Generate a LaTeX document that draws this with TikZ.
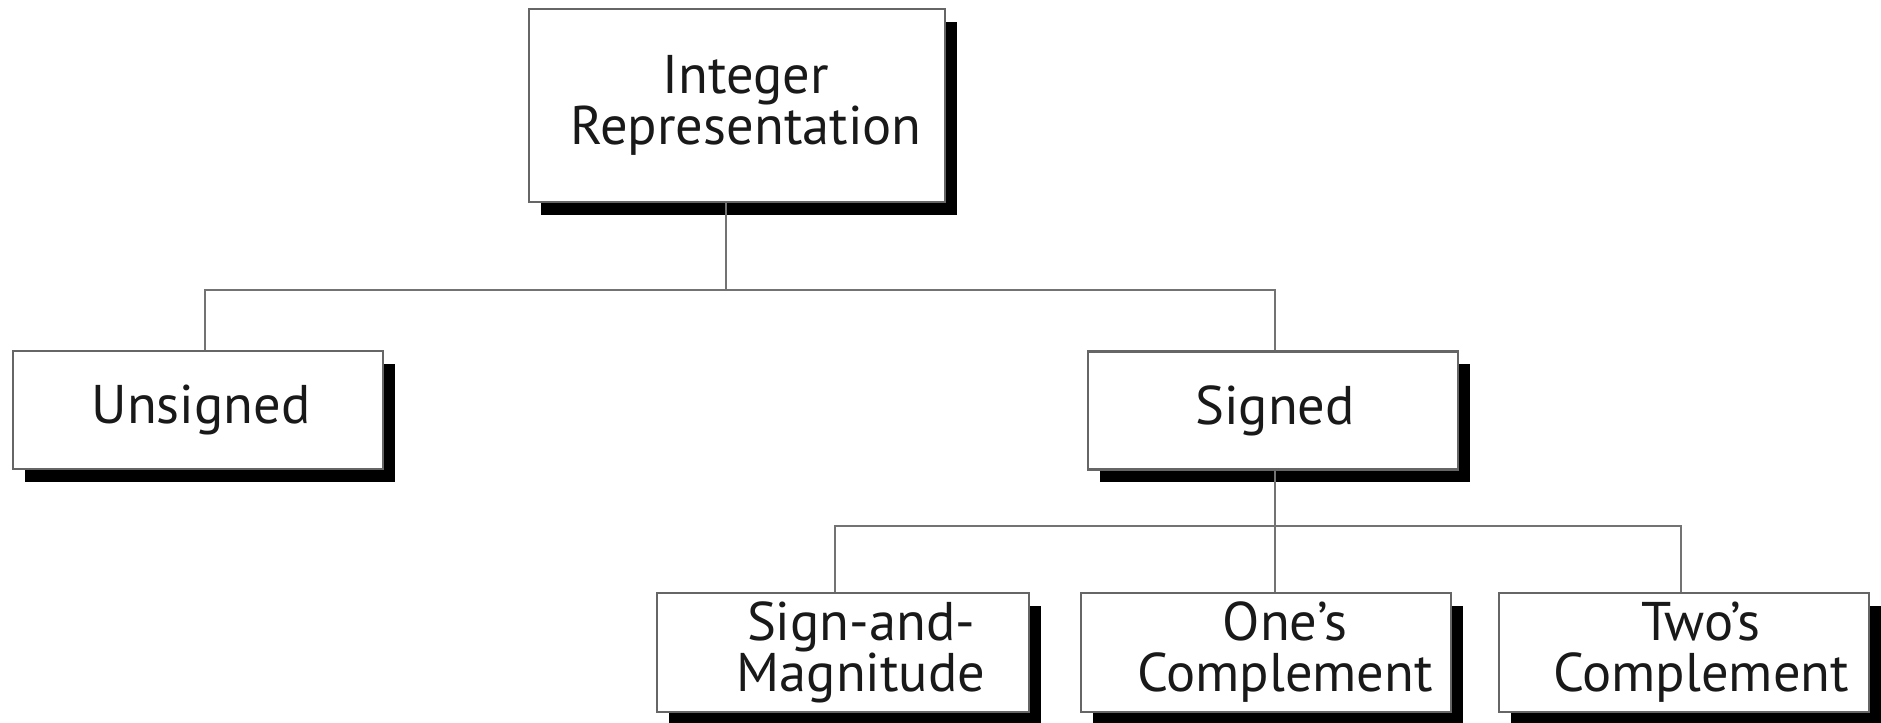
\documentclass[tikz,border=0pt]{standalone}
\usepackage{fontspec}
\setmainfont{PT Sans}
\usetikzlibrary{shadows}

\begin{document}
\begin{tikzpicture}[
   box/.style={draw=black!60, line width=0.6pt, fill=white,
      inner sep=0pt, minimum height=1.18cm,
      drop shadow={shadow xshift=0.12cm, shadow yshift=-0.13cm, fill=black, opacity=1}},
   lbl/.style={align=center, text=black!90, font=\fontsize{15.5}{14.5}\selectfont, inner sep=0pt},
   link/.style={draw=black!55, line width=0.7pt}]
   \useasboundingbox (0, 0) rectangle (18.81, -7.23);

   \node[box, minimum width=4.16cm, minimum height=1.93cm] (intrep) at (7.37, -1.055) {};
   \node[box, minimum width=3.70cm] (unsigned) at (1.98, -4.10) {};
   \node[box, minimum width=3.70cm] (signed) at (12.73, -4.105) {};
   \node[box, minimum width=3.72cm, minimum height=1.19cm] (sam) at (8.43, -6.525) {};
   \node[box, minimum width=3.70cm, minimum height=1.19cm] (ones) at (12.66, -6.525) {};
   \node[box, minimum width=3.70cm, minimum height=1.19cm] (twos) at (16.84, -6.525) {};

   \node[lbl] (intrepText) at ([xshift=0.09cm]intrep) {Integer\\Representation};
   \node[lbl] (unsignedText) at ([xshift=0.03cm]unsigned) {Unsigned};
   \node[lbl] (signedText) at ([xshift=0.02cm]signed) {Signed};
   \node[lbl] (samText) at ([xshift=0.18cm]sam) {Sign-and-\\Magnitude};
   \node[lbl] (onesText) at ([xshift=0.19cm]ones) {One’s\\Complement};
   \node[lbl] (twosText) at ([xshift=0.17cm]twos) {Two’s\\Complement};

   % bus lines
   \coordinate (bus1) at (7.26, -2.90);
   \coordinate (bus2) at (12.75, -5.26);
   \draw[link] (intrep.south -| bus1) -- (bus1);
   \draw[link] (bus1) -| ([xshift=0.07cm]unsigned.north);
   \draw[link] (bus1) -| ([xshift=0.02cm]signed.north);
   \draw[link] (signed.south -| bus2) -- (bus2);
   \draw[link] (bus2) -| ([xshift=-0.08cm]sam.north);
   \draw[link] (bus2) -- (ones.north -| bus2);
   \draw[link] (bus2) -| ([xshift=-0.03cm]twos.north);
\end{tikzpicture}
\end{document}
